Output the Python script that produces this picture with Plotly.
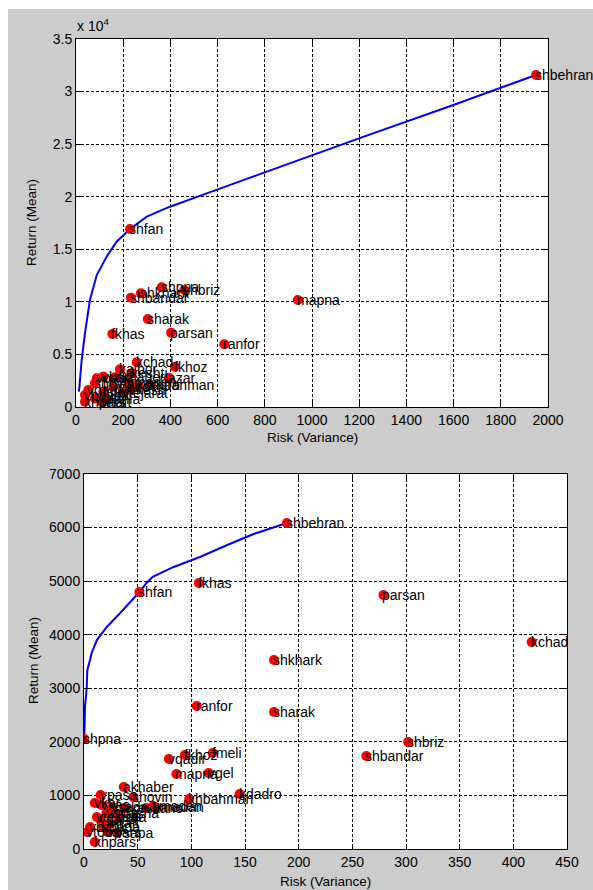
import plotly.graph_objects as go

W, H = 593, 890

# ---------------- Top chart data ----------------
top_names = ["shbehran", "shfan", "shpna", "shkhark", "shbriz", "shbandar", "sharak",
             "fkhas", "parsan", "ranfor", "mapna", "kchad", "fkhoz", "azar",
             "kalbor", "keshti", "vkar", "vpasa", "akhaber", "vmaden", "khbahman",
             "kdadro", "shovin", "vqadir", "vbasha", "khpars", "vgel", "fmeli",
             "vbano", "vtejarat", "pania", "vkesh", "vnaft"]
top_risk = [1949, 229, 363, 275, 459, 233, 304,
            154, 403, 628, 940, 257, 419, 394,
            186, 236, 116, 88, 165, 221, 314,
            263, 80, 52, 38, 38, 80, 116,
            158, 200, 130, 229, 109]
top_return = [31580, 16930, 11380, 10810, 11130, 10400, 8370,
              6940, 7070, 5960, 10180, 4250, 3840, 2790,
              3580, 3200, 2890, 2730, 2820, 2410, 2090,
              2090, 2250, 1620, 1140, 500, 820, 1460,
              1930, 1300, 760, 1620, 500]
top_front_risk = [12.7, 24, 38, 59, 88, 130, 172, 229, 300, 398, 554, 780, 949, 1199, 1599, 1797, 1949]
top_front_return = [1460, 4470, 7010, 10180, 12550, 14300, 15720, 16930, 18100, 19050, 20320,
                    22150, 23560, 25550, 28720, 30310, 31580]
top_xticks = [0, 200, 400, 600, 800, 1000, 1200, 1400, 1600, 1800, 2000]
top_yticks = [0, 5000, 10000, 15000, 20000, 25000, 30000, 35000]
top_yticklabels = ["0", "0.5", "1", "1.5", "2", "2.5", "3", "3.5"]

# ---------------- Bottom chart data ----------------
bot_names = ["shbehran", "shfan", "fkhas", "shkhark", "parsan", "kchad", "shbriz", "shbandar",
             "sharak", "ranfor", "shpna", "fkhoz", "fmeli", "vqadir", "mapna", "vgel",
             "akhaber", "kdadro", "khbahman", "vpasa", "shovin", "vmaden", "vbano", "vkesh",
             "vkar", "vkas", "vtejarat", "vbasha", "vsina", "vnaft", "vpada", "vbank",
             "vtoos", "vpars", "vsapa", "khpars", "vsadr", "vmadan", "vsha", "vdana"]
bot_risk = [189, 51.6, 107, 177, 279, 417, 302, 263,
            177, 105, 0.3, 94, 120, 79, 86, 116,
            37, 145, 98, 15.5, 46, 64.5, 58, 38,
            10, 16.5, 12, 29, 21, 24, 18, 5.6,
            3, 22, 30.7, 10, 26, 66, 32, 15]
bot_return = [6085, 4797, 4966, 3528, 4741, 3864, 1997, 1736,
              2557, 2669, 2053, 1755, 1792, 1680, 1400, 1418,
              1157, 1027, 933, 1008, 971, 803, 765, 765,
              859, 821, 597, 672, 672, 485, 411, 411,
              317, 317, 299, 131, 784, 784, 597, 560]
bot_front_risk = [0.3, 0.9, 2.5, 3.1, 5.6, 7.1, 12, 21, 33.5, 51.6, 58, 64, 83, 108, 133, 158, 189]
bot_front_return = [2053, 2656, 3000, 3341, 3528, 3659, 3900, 4140, 4400, 4797, 4960, 5080, 5260,
                    5450, 5670, 5880, 6085]
bot_xticks = [0, 50, 100, 150, 200, 250, 300, 350, 400, 450]
bot_yticks = [0, 1000, 2000, 3000, 4000, 5000, 6000, 7000]

FONT = "Liberation Sans, Arial, sans-serif"

fig = go.Figure()
annotations = []

def add_panel(xa, ya, fr_x, fr_y, px, py, names):
    fig.add_trace(go.Scatter(x=fr_x, y=fr_y, mode="lines", xaxis=xa, yaxis=ya,
                             line=dict(color="#0000ff", width=2), showlegend=False,
                             hoverinfo="skip"))
    fig.add_trace(go.Scatter(x=px, y=py, mode="markers", xaxis=xa, yaxis=ya,
                             marker=dict(color="#ff0000", size=10, line=dict(width=0)),
                             showlegend=False, text=names))
    for n, xv, yv in zip(names, px, py):
        annotations.append(dict(text=n, x=xv, y=yv, xref=xa, yref=ya, xanchor="left",
                                yanchor="middle", xshift=-3, showarrow=False,
                                font=dict(family=FONT, size=14, color="#000000")))

add_panel("x", "y", top_front_risk, top_front_return, top_risk, top_return, top_names)
add_panel("x2", "y2", bot_front_risk, bot_front_return, bot_risk, bot_return, bot_names)

def px2fx(p):
    return p / W

def py2fy(p):
    return 1 - p / H

axis_common = dict(showline=True, linecolor="#000000", linewidth=1, mirror="ticks",
                   ticks="inside", ticklen=5, tickcolor="#000000", tickwidth=1,
                   showgrid=True, gridcolor="#000000", gridwidth=1, griddash="3px,2px",
                   zeroline=False, automargin=False,
                   tickfont=dict(family=FONT, size=14, color="#000000"),
                   fixedrange=True)

def title_ann(text, x, y, angle=0):
    return dict(text=text, xref="paper", yref="paper", x=px2fx(x), y=py2fy(y),
                xanchor="center", yanchor="middle", showarrow=False, textangle=angle,
                font=dict(family=FONT, size=13.5, color="#000000"))

annotations += [
    dict(text="x 10<sup>4</sup>", xref="paper", yref="paper", x=px2fx(75), y=py2fy(25),
         xanchor="left", yanchor="middle", showarrow=False,
         font=dict(family=FONT, size=14, color="#000000")),
    title_ann("Risk (Variance)", 312, 437),
    title_ann("Return (Mean)", 32, 223, -90),
    title_ann("Risk (Variance)", 325, 881),
    title_ann("Return (Mean)", 33, 661, -90),
]

fig.update_layout(
    width=W, height=H,
    autosize=False,
    margin=dict(l=0, r=0, t=0, b=0, pad=0, autoexpand=False),
    paper_bgcolor="#cccccc", plot_bgcolor="#ffffff",
    showlegend=False,
    xaxis=dict(domain=[px2fx(76), px2fx(548)], anchor="y", range=[0, 2000],
               tickvals=top_xticks, **axis_common),
    yaxis=dict(domain=[py2fy(407), py2fy(39)], anchor="x", range=[0, 35000],
               tickvals=top_yticks, ticktext=top_yticklabels, **axis_common),
    xaxis2=dict(domain=[px2fx(84), px2fx(567)], anchor="y2", range=[0, 450],
                tickvals=bot_xticks, **axis_common),
    yaxis2=dict(domain=[py2fy(849), py2fy(474)], anchor="x2", range=[0, 7000],
                tickvals=bot_yticks, **axis_common),
    shapes=[
        dict(type="rect", xref="paper", yref="paper", x0=0, x1=1, y0=py2fy(9), y1=1,
             fillcolor="#ffffff", line=dict(width=0), layer="below"),
        dict(type="rect", xref="paper", yref="paper", x0=0, x1=px2fx(8), y0=0, y1=1,
             fillcolor="#ffffff", line=dict(width=0), layer="below"),
    ],
    annotations=annotations,
)

fig.write_html("out.html", config={"responsive": False, "displayModeBar": False},
               post_script="document.body.style.margin='0px';document.body.style.overflow='hidden';")
